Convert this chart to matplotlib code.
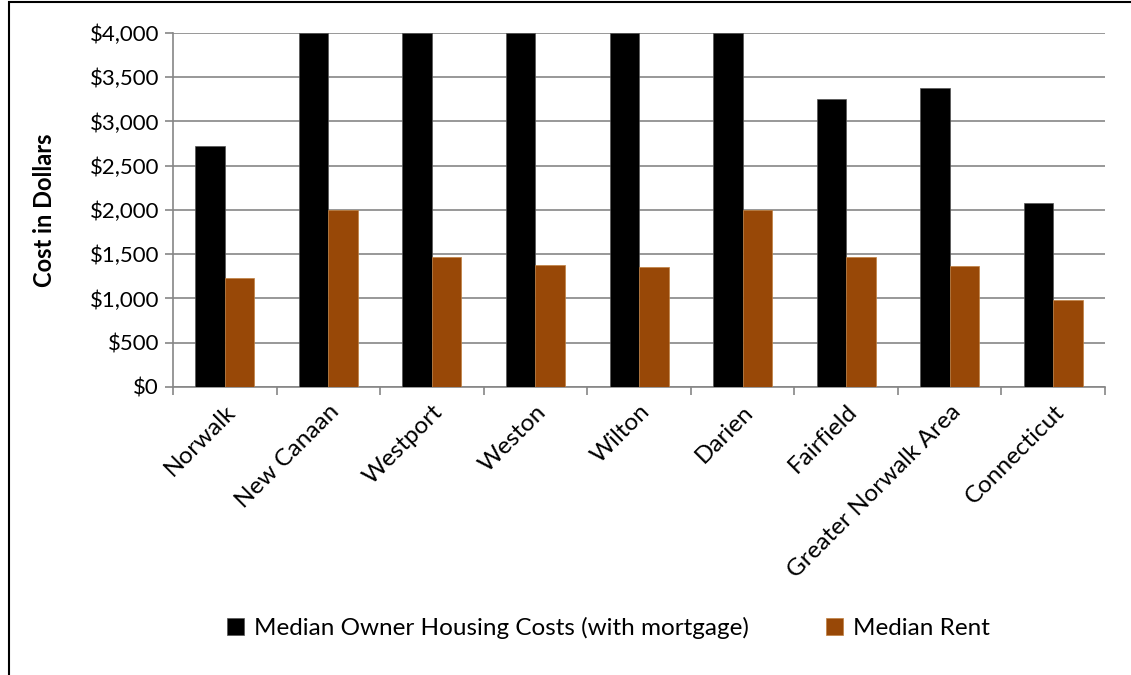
import matplotlib.pyplot as plt
import numpy as np
from matplotlib.ticker import FuncFormatter
from matplotlib.patches import Rectangle

plt.rcParams['font.family'] = ['Lato', 'DejaVu Sans']

# datos
areas = ['Norwalk', 'New Canaan', 'Westport', 'Weston', 'Wilton', 'Darien',
         'Fairfield', 'Greater Norwalk Area', 'Connecticut']
owner_costs = [2727, 4000, 4000, 4000, 4000, 4000, 3254, 3379, 2083]
median_rent = [1235, 2000, 1472, 1379, 1360, 2000, 1465, 1364, 987]

GRIS = '#868686'
MARRON = '#984807'

fig = plt.figure(figsize=(11.31, 6.75), dpi=100)
ax = fig.add_axes([0.153, 0.4267, 0.824, 0.5244])

x = np.arange(len(areas))
w = 0.285
ax.bar(x - w/2, owner_costs, w, color='black', edgecolor='#555555',
       linewidth=0.5, label='Median Owner Housing Costs (with mortgage)', zorder=3)
ax.bar(x + w/2, median_rent, w, color=MARRON, edgecolor='#c08040',
       linewidth=0.5, label='Median Rent', zorder=3)

ax.set_xlim(-0.5, len(areas) - 0.5)
ax.set_ylim(0, 4000)
ax.set_yticks(np.arange(0, 4001, 500))
ax.yaxis.set_major_formatter(FuncFormatter(lambda v, p: '${:,.0f}'.format(v)))
ax.yaxis.grid(True, color=GRIS, linewidth=1.2, zorder=0)

ax.set_xticks(np.arange(-0.5, len(areas), 1.0), minor=False)
ax.set_xticklabels([])
ax.set_xticks(x, minor=True)
ax.set_xticklabels(areas, minor=True, rotation=45, ha='right',
                   rotation_mode='anchor', fontsize=17.5)
ax.tick_params(axis='x', which='major', length=6, color=GRIS, width=1.2)
ax.tick_params(axis='x', which='minor', length=0, pad=10)
ax.tick_params(axis='y', length=6, color=GRIS, width=1.2, labelsize=16, pad=4)

for s in ['top', 'right']:
    ax.spines[s].set_visible(False)
for s in ['left', 'bottom']:
    ax.spines[s].set_color(GRIS)
    ax.spines[s].set_linewidth(1.2)

ax.set_ylabel('Cost in Dollars', fontsize=17, fontweight='bold', labelpad=24)

fig.legend(loc='center', bbox_to_anchor=(0.538, 0.07), ncol=2, frameon=False,
           fontsize=17.5, handlelength=0.7, handleheight=0.7, handletextpad=0.4,
           columnspacing=3.2)

# marco de la figura
fig.add_artist(Rectangle((0.008, -0.01), 1.2, 1.007, transform=fig.transFigure,
                         fill=False, edgecolor='black', linewidth=1.5))

fig.savefig('out.png', dpi=100)
